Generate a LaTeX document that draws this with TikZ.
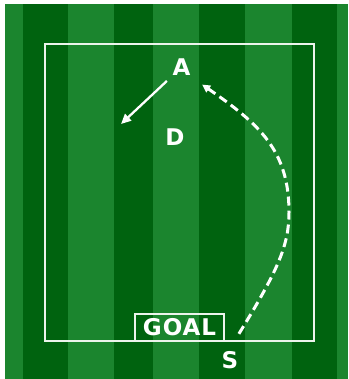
\documentclass[tikz,border=0pt]{standalone}
\usepackage{fontspec}
\usepackage{tikz}
\usetikzlibrary{arrows.meta}
\newfontfamily\pitchfont{DejaVu Sans}
\definecolor{pitchdark}{RGB}{0,99,15}
\definecolor{pitchlight}{RGB}{27,133,46}
\definecolor{chalk}{RGB}{236,244,236}

\begin{document}
\begin{tikzpicture}[x=1pt,y=-1pt,
  fieldline/.style={chalk,line width=2pt},
  player/.style={text=white,inner sep=3.3pt,font=\pitchfont\bfseries\fontsize{23}{23}\selectfont},
  goalbox/.style={player,draw=chalk,line width=2pt,minimum width=89pt,minimum height=27pt},
  runline/.style={white,line width=2.3pt,-{Triangle[length=10pt,width=9pt]}},
  passline/.style={white,line width=3pt,dash pattern=on 9pt off 5pt,-{Triangle[length=8pt,width=8pt]}}]
  \useasboundingbox (0,0) rectangle (348,379);
  % pitch with stripes
  \fill[white] (0,0) rectangle (348,379);
  \fill[pitchlight] (5,4) rectangle (348,379);
  \foreach \xa/\xb in {23/68,114/153,199/245,292/337}{
    \fill[pitchdark] (\xa,4) rectangle (\xb,379);
  }
  \draw[fieldline] (45,44) rectangle (314,341);
  \node[goalbox] (goal) at (179.5,327.5) {\addfontfeature{LetterSpace=4}GOAL};
  % players
  \node[player] (A) at (181.5,67) {A};
  \node[player] (D) at (175,137.5) {D};
  \node[player] (S) at (230,360.5) {S};
  \coordinate (runto) at (121,124);
  \coordinate (wide) at (289,212);
  \draw[runline,shorten <=3pt] (A.south west) -- (runto);
  \draw[passline,shorten <=17pt,shorten >=10pt] (S.north) .. controls (278.4,269.6) and (289,245) .. (wide)
    .. controls (289,150) and (258.7,123.7) .. (A.south east);
\end{tikzpicture}
\end{document}
